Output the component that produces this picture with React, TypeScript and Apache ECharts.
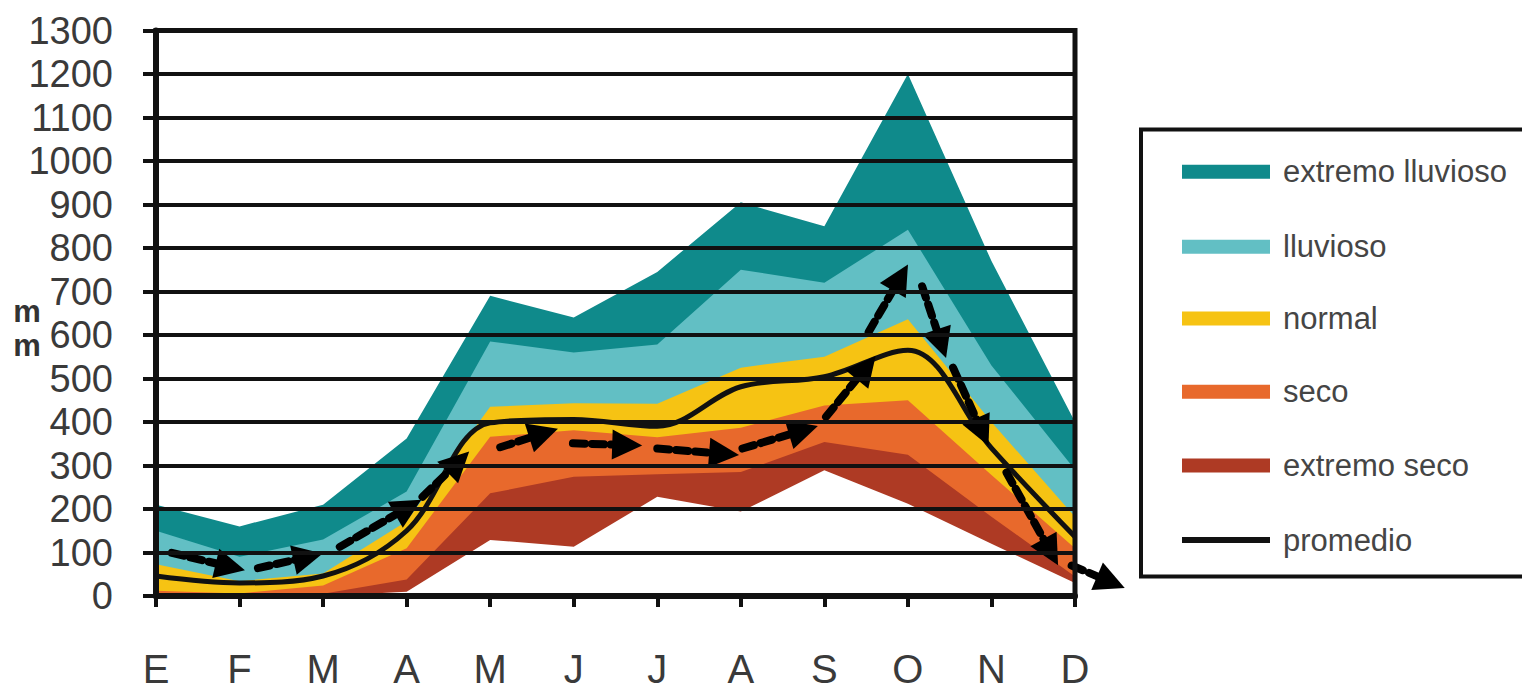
import React, { useEffect, useRef } from 'react';
import * as echarts from 'echarts';

// ---- data ----
const months = ['E', 'F', 'M', 'A', 'M', 'J', 'J', 'A', 'S', 'O', 'N', 'D'];
const extremoLluvioso = [210, 160, 210, 362, 690, 640, 745, 905, 850, 1200, 770, 400];
const lluvioso = [150, 90, 130, 240, 585, 560, 578, 750, 720, 842, 530, 290];
const normal = [73, 34, 52, 172, 435, 443, 442, 525, 550, 636, 400, 182];
const seco = [12, 6, 24, 110, 366, 381, 365, 387, 438, 450, 278, 110];
const extremoSeco = [3, 2, 5, 38, 236, 274, 280, 285, 354, 325, 182, 45];
const fondo = [0, 0, 0, 10, 129, 113, 228, 194, 289, 212, 120, 30];
const promedio = [46, 30, 46, 150, 398, 406, 390, 481, 504, 565, 340, 136];
const legendNames = ['extremo lluvioso', 'lluvioso', 'normal', 'seco', 'extremo seco', 'promedio'];
const arrowFrom = [
  [0.19, 99], [1.22, 64], [2.2, 113], [3.19, 228], [4.12, 342], [4.99, 351], [6.0, 339],
  [7.02, 339], [8.02, 412], [8.53, 607], [9.17, 712], [9.54, 525], [10.18, 284], [10.96, 70],
];
const arrowTo = [
  [0.89, 67], [1.82, 90], [3.02, 204], [3.62, 308], [4.64, 374], [5.64, 347], [6.8, 327],
  [7.75, 381], [8.5, 525], [8.91, 732], [9.4, 580], [9.89, 377], [10.71, 101], [11.43, 32],
];

// ---- styles ----
const FONT = "'Liberation Sans', Arial, sans-serif";
const COLORS = ['#0f8a8b', '#62bfc4', '#f6c313', '#e8692c', '#ae3a24', '#111111'];

const toXY = (arr: number[]) => arr.map((v, i) => [i, v]);

const areaSeries = (name: string, data: number[], color: string) => ({
  type: 'line',
  name,
  data: toXY(data),
  symbol: 'none',
  lineStyle: { width: 0, color },
  itemStyle: { color },
  areaStyle: { color, opacity: 1 },
  silent: true,
  z: 2,
});

function buildGraphics() {
  const centers = [171.7, 246.7, 318.5, 391.7, 465.5, 540];
  const els: any[] = [
    {
      type: 'rect',
      shape: { x: 1141, y: 129.5, width: 420, height: 447 },
      style: { fill: '#fff', stroke: '#111', lineWidth: 4 },
      z: 100,
    },
  ];
  legendNames.forEach((n, i) => {
    const h = i === 5 ? 6 : 14;
    els.push({
      type: 'rect',
      shape: { x: 1182, y: centers[i] - h / 2, width: 88, height: h },
      style: { fill: COLORS[i] },
      z: 101,
    });
    els.push({
      type: 'text',
      x: 1283,
      y: centers[i],
      style: {
        text: n,
        fontSize: 31,
        fontFamily: FONT,
        fill: '#454545',
        verticalAlign: 'middle',
        align: 'left',
      },
      z: 101,
    });
  });
  [311, 345].forEach((y) => {
    els.push({
      type: 'text', x: 27, y,
      style: { text: 'm', fontSize: 31, fontWeight: 'bold', fontFamily: FONT, fill: '#333', align: 'center', verticalAlign: 'middle' },
    });
  });
  return els;
}

export default function App() {
  const ref = useRef<HTMLDivElement>(null);
  useEffect(() => {
    if (!ref.current) return;
    const chart = echarts.init(ref.current, null, { renderer: 'svg' });
    const option: any = {
      animation: false,
      backgroundColor: '#ffffff',
      grid: {
        left: 156,
        right: 447,
        top: 30.5,
        bottom: 94,
        show: true,
        borderColor: '#111',
        borderWidth: 5,
        backgroundColor: 'transparent',
        z: 10,
      },
      xAxis: {
        type: 'value',
        min: 0,
        max: 11,
        interval: 1,
        splitLine: { show: false },
        axisLine: { show: true, lineStyle: { color: '#111', width: 6 } },
        axisTick: { show: true, length: 11, lineStyle: { color: '#111', width: 4 } },
        axisLabel: {
          formatter: (v: number) => months[v] ?? '',
          fontSize: 40,
          fontFamily: FONT,
          color: '#3a3a3a',
          margin: 53,
          showMinLabel: true,
          showMaxLabel: true,
        },
        z: 10,
      },
      yAxis: {
        type: 'value',
        min: 0,
        max: 1300,
        interval: 100,
        splitLine: { show: true, lineStyle: { color: '#111', width: 4 } },
        axisLine: { show: true, lineStyle: { color: '#111', width: 6 } },
        axisTick: { show: true, length: 13, lineStyle: { color: '#111', width: 4 } },
        axisLabel: {
          formatter: (v: number) => String(v),
          fontSize: 38,
          fontFamily: FONT,
          color: '#3a3a3a',
          margin: 43,
          showMinLabel: true,
          showMaxLabel: true,
          hideOverlap: false,
        },
        z: 10,
      },
      series: [
        areaSeries('extremo lluvioso', extremoLluvioso, COLORS[0]),
        areaSeries('lluvioso', lluvioso, COLORS[1]),
        areaSeries('normal', normal, COLORS[2]),
        areaSeries('seco', seco, COLORS[3]),
        areaSeries('extremo seco', extremoSeco, COLORS[4]),
        areaSeries('fondo', fondo, '#ffffff'),
        {
          type: 'line',
          name: 'promedio',
          data: toXY(promedio),
          symbol: 'none',
          smooth: 0.35,
          lineStyle: { width: 5, color: COLORS[5] },
          itemStyle: { color: COLORS[5] },
          silent: true,
          z: 3,
        },
        {
          type: 'lines',
          name: 'tendencia',
          coordinateSystem: 'cartesian2d',
          clip: false,
          silent: true,
          z: 4,
          symbol: ['none', 'triangle'],
          symbolSize: [0, 30],
          lineStyle: { color: '#000', width: 8, type: [12, 7], opacity: 1, curveness: 0, cap: 'round' },
          data: arrowFrom.map((f, i) => ({ coords: [f, arrowTo[i]] })),
        },
      ],
      graphic: buildGraphics(),
    };
    chart.setOption(option);
    return () => chart.dispose();
  }, []);
  return (
    <div
      ref={ref}
      style={{ position: 'fixed', left: 0, top: 0, width: 1522, height: 690, background: '#fff' }}
    />
  );
}
